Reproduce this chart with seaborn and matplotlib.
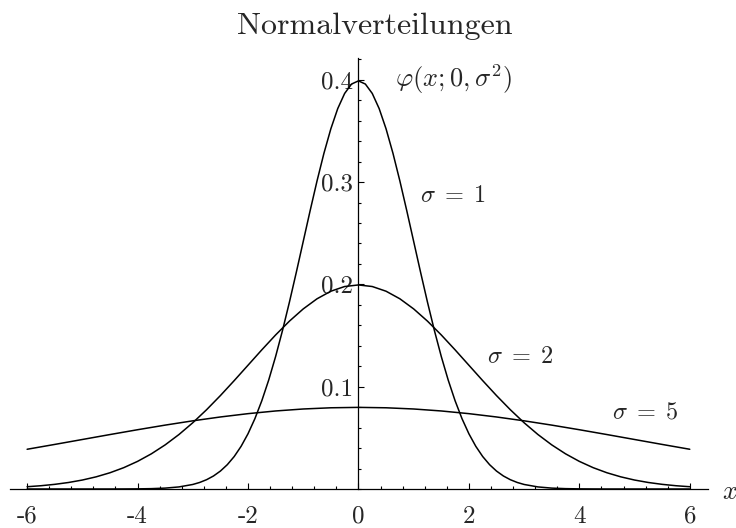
import matplotlib
matplotlib.use("Agg")
import matplotlib.pyplot as plt
from matplotlib.ticker import FixedLocator, MultipleLocator
import pandas as pd
import seaborn as sns

# Density values of the three normal curves, phi(x; 0, sigma^2)
x_s1 = [-6.0, -5.75, -5.5, -5.25, -5.0, -4.75, -4.5, -4.25, -4.0, -3.75, -3.5, -3.25,
        -3.0, -2.875, -2.75, -2.625, -2.5, -2.375, -2.25, -2.125, -2.0, -1.875, -1.75,
        -1.625, -1.5, -1.375, -1.25, -1.125, -1.0, -0.875, -0.75, -0.625, -0.5, -0.375,
        -0.25, -0.125, 0.0, 0.125, 0.25, 0.375, 0.5, 0.625, 0.75, 0.875, 1.0, 1.125,
        1.25, 1.375, 1.5, 1.625, 1.75, 1.875, 2.0, 2.125, 2.25, 2.375, 2.5, 2.625, 2.75,
        2.875, 3.0, 3.25, 3.5, 3.75, 4.0, 4.25, 4.5, 4.75, 5.0, 5.25, 5.5, 5.75, 6.0]
y_s1 = [0.0, 0.0, 0.0, 0.0, 0.0, 0.0, 0.0, 0.00005, 0.00013, 0.00035, 0.00087, 0.00203,
        0.00443, 0.00640, 0.00910, 0.01272, 0.01753, 0.02377, 0.03174, 0.04172, 0.05399,
        0.06878, 0.08628, 0.10654, 0.12952, 0.15501, 0.18265, 0.21188, 0.24197, 0.27205,
        0.30114, 0.32816, 0.35206, 0.37185, 0.38666, 0.39584, 0.39894, 0.39584, 0.38666,
        0.37185, 0.35206, 0.32816, 0.30114, 0.27205, 0.24197, 0.21188, 0.18265, 0.15501,
        0.12952, 0.10654, 0.08628, 0.06878, 0.05399, 0.04172, 0.03174, 0.02377, 0.01753,
        0.01272, 0.00910, 0.00640, 0.00443, 0.00203, 0.00087, 0.00035, 0.00013, 0.00005,
        0.0, 0.0, 0.0, 0.0, 0.0, 0.0, 0.0]

x_s2 = [-6.0, -5.75, -5.5, -5.25, -5.0, -4.75, -4.5, -4.25, -4.0, -3.75, -3.5, -3.25,
        -3.0, -2.75, -2.5, -2.25, -2.0, -1.75, -1.5, -1.25, -1.0, -0.75, -0.5, -0.25,
        0.0, 0.25, 0.5, 0.75, 1.0, 1.25, 1.5, 1.75, 2.0, 2.25, 2.5, 2.75, 3.0, 3.25,
        3.5, 3.75, 4.0, 4.25, 4.5, 4.75, 5.0, 5.25, 5.5, 5.75, 6.0]
y_s2 = [0.00222, 0.00320, 0.00455, 0.00636, 0.00876, 0.01189, 0.01587, 0.02086, 0.02700,
        0.03439, 0.04314, 0.05327, 0.06476, 0.07751, 0.09132, 0.10594, 0.12098, 0.13603,
        0.15057, 0.16408, 0.17603, 0.18593, 0.19333, 0.19792, 0.19947, 0.19792, 0.19333,
        0.18593, 0.17603, 0.16408, 0.15057, 0.13603, 0.12098, 0.10594, 0.09132, 0.07751,
        0.06476, 0.05327, 0.04314, 0.03439, 0.02700, 0.02086, 0.01587, 0.01189, 0.00876,
        0.00636, 0.00455, 0.00320, 0.00222]

x_s5 = [-6.0, -5.5, -5.0, -4.5, -4.0, -3.5, -3.0, -2.5, -2.0, -1.5, -1.0, -0.5, 0.0,
        0.5, 1.0, 1.5, 2.0, 2.5, 3.0, 3.5, 4.0, 4.5, 5.0, 5.5, 6.0]
y_s5 = [0.03884, 0.04357, 0.04839, 0.05322, 0.05794, 0.06245, 0.06664, 0.07041, 0.07365,
        0.07628, 0.07821, 0.07939, 0.07979, 0.07939, 0.07821, 0.07628, 0.07365, 0.07041,
        0.06664, 0.06245, 0.05794, 0.05322, 0.04839, 0.04357, 0.03884]

sigmas = [1, 2, 5]
x_ticks = [-6, -4, -2, 0, 2, 4, 6]
x_tick_labels = ["-6", "-4", "-2", "0", "2", "4", "6"]
y_ticks = [0.1, 0.2, 0.3, 0.4]
y_tick_labels = ["0.1", "0.2", "0.3", "0.4"]

frames = []
for s, xs, ys in zip(sigmas, [x_s1, x_s2, x_s5], [y_s1, y_s2, y_s5]):
    frames.append(pd.DataFrame({"x": xs, "y": ys, "sigma": s}))
df = pd.concat(frames, ignore_index=True)

sns.set_style("white")
plt.rcParams["font.family"] = ["cmr10", "DejaVu Serif"]
plt.rcParams["mathtext.fontset"] = "cm"
plt.rcParams["axes.unicode_minus"] = False
plt.rcParams["axes.formatter.use_mathtext"] = True

fig = plt.figure(figsize=(7.36, 5.28), dpi=100)
ax = fig.add_axes([10 / 736, 39 / 528, 698 / 736, 431 / 528])

sns.lineplot(data=df, x="x", y="y", hue="sigma", units="sigma", estimator=None,
             sort=False, palette=["black"] * 3, legend=False, linewidth=1.1, ax=ax)

ax.set_xlim(-6.31, 6.33)
ax.set_ylim(0, 0.4213)

for side in ("top", "right"):
    ax.spines[side].set_visible(False)
ax.spines["left"].set_position(("data", 0))
ax.spines["bottom"].set_position(("data", 0))
for side in ("left", "bottom"):
    ax.spines[side].set_linewidth(0.9)
    ax.spines[side].set_color("black")

ax.xaxis.set_major_locator(FixedLocator(x_ticks))
ax.set_xticklabels(x_tick_labels)
ax.xaxis.set_minor_locator(MultipleLocator(0.4))
ax.yaxis.set_major_locator(FixedLocator(y_ticks))
ax.set_yticklabels(y_tick_labels)
ax.yaxis.set_minor_locator(MultipleLocator(0.02))

ax.tick_params(which="both", direction="in", color="black", width=0.8,
               bottom=True, left=True, top=False, right=False)
ax.tick_params(which="major", length=4.5, labelsize=18)
ax.tick_params(axis="x", which="major", pad=12)
ax.tick_params(axis="y", which="major", pad=4)
ax.tick_params(which="minor", length=2.5)

ax.set_xlabel("")
ax.set_ylabel("")
ax.grid(False)

ax.text(6.72, -0.003, r"$x$", fontsize=19, ha="center", va="center", clip_on=False)
ax.text(0.66, 0.401, r"$\varphi(x;0,\sigma^2)$", fontsize=19, ha="left", va="center")
ax.text(1.11, 0.286, r"$\sigma\;=\;1$", fontsize=17.5, ha="left", va="center")
ax.text(2.33, 0.129, r"$\sigma\;=\;2$", fontsize=17.5, ha="left", va="center")
ax.text(4.59, 0.075, r"$\sigma\;=\;5$", fontsize=17.5, ha="left", va="center")

fig.text(375 / 736, 494 / 528, "Normalverteilungen", fontsize=23, ha="center",
         va="baseline")

fig.savefig("out.png", dpi=100, facecolor="white")
